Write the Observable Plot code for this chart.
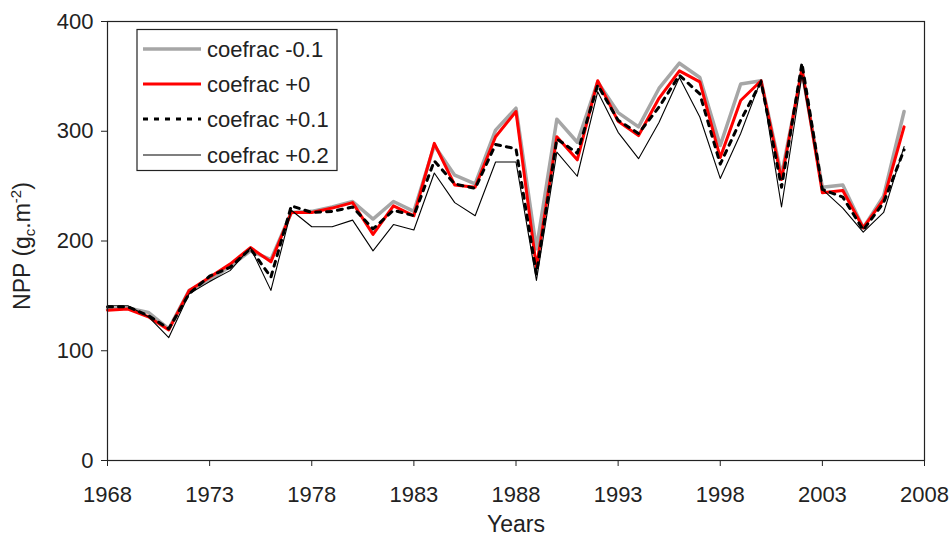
<!DOCTYPE html>
<html>
<head>
<meta charset="utf-8">
<script src="https://cdn.jsdelivr.net/npm/d3@7"></script>
<script src="https://cdn.jsdelivr.net/npm/@observablehq/plot@0.6"></script>
<style>
  html, body { margin: 0; padding: 0; background: #fff; }
  #chart svg { display: block; }
</style>
</head>
<body>
<div id="chart"></div>
<script>
const years = [1968,1969,1970,1971,1972,1973,1974,1975,1976,1977,1978,1979,1980,1981,1982,1983,1984,1985,1986,1987,1988,1989,1990,1991,1992,1993,1994,1995,1996,1997,1998,1999,2000,2001,2002,2003,2004,2005,2006,2007];

const coefracMinus01 = [138,139,135,120,155,164,177,191,183,226,227,231,236,220,236,227,287,260,252,301,321,193,311,290,345,317,304,339,362,349,287,343,346,260,355,249,251,212,241,318];
const coefrac0 = [137,138,131,119,155,167,179,194,181,226,226,230,235,206,232,223,289,251,249,295,318,176,295,274,346,309,296,330,355,345,276,328,346,256,357,244,246,212,238,304];
const coefrac01 = [140,140,132,120,152,168,176,193,167,232,226,227,231,211,228,223,273,252,248,288,284,170,293,280,342,310,298,322,351,334,270,310,345,249,362,247,240,210,235,283];
const coefrac02 = [141,141,131,112,152,163,173,194,155,228,213,213,219,191,215,210,262,235,223,272,272,164,281,259,336,299,275,308,349,313,257,298,347,231,351,247,230,208,226,286];

const xTicks = [1968,1973,1978,1983,1988,1993,1998,2003,2008];
const yTicks = [0,100,200,300,400];
const seriesNames = ["coefrac -0.1","coefrac +0","coefrac +0.1","coefrac +0.2"];

const styles = [
  {stroke: "#a6a6a6", strokeWidth: 3.5},
  {stroke: "#ff0000", strokeWidth: 3},
  {stroke: "#000000", strokeWidth: 3, strokeDasharray: "5,6"},
  {stroke: "#000000", strokeWidth: 1.1}
];
const seriesData = [coefracMinus01, coefrac0, coefrac01, coefrac02];

const lineMarks = seriesData.map((vals, k) =>
  Plot.line(vals, {x: (d, i) => years[i], y: d => d, ...styles[k]})
);

const chart = Plot.plot({
  width: 949,
  height: 538,
  marginLeft: 107,
  marginRight: 25,
  marginTop: 21,
  marginBottom: 78,
  style: {fontFamily: "'Liberation Sans', Arial, sans-serif", fontSize: "22px", color: "#222", background: "#fff"},
  x: {domain: [1968, 2008]},
  y: {domain: [0, 400]},
  marks: [
    ...lineMarks,
    Plot.frame({stroke: "#222", strokeWidth: 1.2}),
    Plot.axisX({ticks: xTicks, tickFormat: "d", tickSize: 6, tickPadding: 20, label: null, stroke: "#222", fontSize: 22}),
    Plot.axisY({ticks: yTicks, tickSize: 6, tickPadding: 8, label: null, stroke: "#222", fontSize: 22}),
    Plot.text(["Years"], {frameAnchor: "bottom", dy: 71, fontSize: 23, fill: "#222"})
  ]
});

document.getElementById("chart").appendChild(chart);

// Y axis title with subscript / superscript
const svg = d3.select(chart);
const yt = svg.append("text")
  .attr("transform", "translate(30,246) rotate(-90)")
  .attr("text-anchor", "middle")
  .attr("font-size", 23)
  .attr("fill", "#222")
  .attr("font-family", "'Liberation Sans', Arial, sans-serif");
yt.append("tspan").text("NPP (g");
yt.append("tspan").attr("font-size", 15).attr("dy", 5).text("c");
yt.append("tspan").attr("dy", -5).text(".m");
yt.append("tspan").attr("font-size", 15).attr("dy", -9).text("-2");
yt.append("tspan").attr("dy", 9).text(")");

// Legend
const lg = svg.append("g").attr("font-family", "'Liberation Sans', Arial, sans-serif").attr("font-size", 22).attr("fill", "#222").attr("text-anchor", "start");
lg.append("rect").attr("x", 137).attr("y", 29.5).attr("width", 200).attr("height", 141)
  .attr("fill", "#fff").attr("stroke", "#222").attr("stroke-width", 1.2);
const rowY = [49, 84, 119, 155];
seriesNames.forEach((name, k) => {
  const s = styles[k];
  lg.append("line").attr("x1", 143).attr("x2", 201).attr("y1", rowY[k]).attr("y2", rowY[k])
    .attr("stroke", s.stroke).attr("stroke-width", s.strokeWidth)
    .attr("stroke-dasharray", s.strokeDasharray || null);
  lg.append("text").attr("x", 207).attr("y", rowY[k]).attr("dy", "0.35em").attr("text-anchor", "start").text(name);
});
</script>
</body>
</html>
